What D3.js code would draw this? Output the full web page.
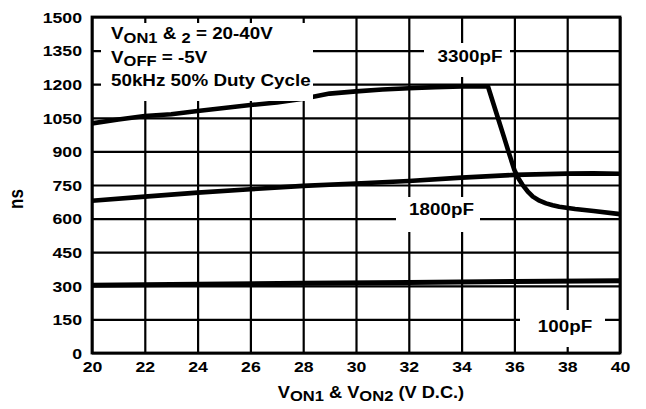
<!doctype html>
<html lang="en">
<head>
<meta charset="utf-8">
<title>Propagation delay vs VON</title>
<style>
    body { margin: 0; background: #fff; }
    svg text {
        font-family: "Liberation Sans", Arial, Helvetica, sans-serif;
        font-weight: bold;
        fill: #000;
    }
    .grid line { stroke: #000; stroke-width: 2.2; }
    .curve { fill: none; stroke: #000; stroke-linejoin: round; stroke-linecap: butt; }
</style>
</head>
<body>
<script src="https://d3js.org/d3.v7.min.js"></script>
<script>
    // tick labels
    const xTicks = [20, 22, 24, 26, 28, 30, 32, 34, 36, 38, 40];
    const yTicks = [0, 150, 300, 450, 600, 750, 900, 1050, 1200, 1350, 1500];

    // 3300pF curve
    const volts3300 = [20, 21, 22, 23, 24, 25, 26, 27, 28, 29, 30, 31, 32, 33, 34, 35,
        35.2, 35.4, 35.6, 35.8, 36, 36.15, 36.3, 36.5, 36.7, 36.95, 37.2, 37.45, 37.7, 38.3, 39, 40];
    const ns3300 = [1025, 1042, 1058, 1066, 1080, 1094, 1107, 1118, 1135, 1158, 1168, 1176, 1182, 1187, 1190, 1190,
        1115, 1040, 966, 890, 817, 780, 752, 722, 698, 680, 668, 660, 653, 643, 634, 620];

    // 1800pF curve
    const volts1800 = [20, 22, 24, 26, 28, 30, 32, 34, 36, 38, 39, 40];
    const ns1800 = [680, 698, 716, 731, 746, 757, 768, 783, 795, 801, 802, 800];

    // 100pF curve
    const volts100 = [20, 24, 28, 32, 36, 40];
    const ns100 = [303, 307, 311, 315, 319, 323];

    const W = 646, H = 409;
    const margin = {top: 17, right: 26, bottom: 56, left: 92};
    const iw = W - margin.left - margin.right;
    const ih = H - margin.top - margin.bottom;
    const SX = 1.14;   // the source lettering is a little wide

    const svg = d3.select('body').append('svg')
        .attr('width', W).attr('height', H);

    const g = svg.append('g').attr('transform', `translate(${margin.left},${margin.top})`);

    const x = d3.scaleLinear().domain([20, 40]).range([0, iw]);
    const y = d3.scaleLinear().domain([0, 1500]).range([ih, 0]);

    // grid + tick labels
    const xAxis = g.append('g').attr('class', 'grid')
        .attr('transform', `translate(0,${ih})`)
        .call(d3.axisBottom(x).tickValues(xTicks).tickFormat(d3.format('d'))
            .tickSizeInner(-ih).tickSizeOuter(0).tickPadding(8));
    xAxis.select('.domain').remove();
    xAxis.selectAll('text')
        .style('font-size', '15.5px')
        .attr('transform', `scale(${SX},1)`);

    const yAxis = g.append('g').attr('class', 'grid')
        .call(d3.axisLeft(y).tickValues(yTicks).tickFormat(d3.format('d'))
            .tickSizeInner(-iw).tickSizeOuter(0).tickPadding(10));
    yAxis.select('.domain').remove();
    yAxis.selectAll('text')
        .style('font-size', '15.5px')
        .attr('x', 0)
        .attr('dy', '0.34em')
        .attr('transform', `translate(-10,0) scale(${SX},1)`);

    // frame
    g.append('rect')
        .attr('width', iw).attr('height', ih)
        .attr('fill', 'none').attr('stroke', '#000').attr('stroke-width', 2.8);

    // white label backgrounds that hide the grid
    const boxes = [
        [101, 23, 313, 101],
        [424, 43, 510, 77],
        [396, 197, 480, 232],
        [520, 310, 605, 347]
    ];
    svg.selectAll('rect.mask').data(boxes).enter().append('rect')
        .attr('class', 'mask')
        .attr('x', d => d[0]).attr('y', d => d[1])
        .attr('width', d => d[2] - d[0]).attr('height', d => d[3] - d[1])
        .attr('fill', '#fff');

    // curves
    const line = d3.line().x(d => x(d[0])).y(d => y(d[1]));
    const curves = [
        {v: volts3300, n: ns3300, w: 4.6},
        {v: volts1800, n: ns1800, w: 4.6},
        {v: volts100, n: ns100, w: 5}
    ];
    g.selectAll('path.curve').data(curves).enter().append('path')
        .attr('class', 'curve')
        .attr('stroke-width', d => d.w)
        .attr('d', d => line(d.v.map((v, i) => [v, d.n[i]])));

    // text helper: parts are [string, isSubscript]
    function label(px, py, parts, anchor, size, rot) {
        const t = svg.append('text')
            .attr('text-anchor', anchor || 'start')
            .style('font-size', (size || 16.5) + 'px')
            .attr('transform', rot
                ? `translate(${px},${py}) rotate(-90) scale(1,${SX})`
                : `translate(${px},${py}) scale(${SX},1)`);
        let down = false;
        parts.forEach(p => {
            const sub = p[1];
            const s = t.append('tspan').text(p[0]);
            if (sub) s.style('font-size', '14.5px');
            if (sub !== down) s.attr('dy', sub ? 3.5 : -3.5);
            down = sub;
        });
        return t;
    }

    label(111, 42.5, [['V', 0], ['ON1', 1], [' & ', 0], ['2', 1], [' = 20-40V', 0]]);
    label(111, 66, [['V', 0], ['OFF', 1], [' = -5V', 0]]);
    label(111, 89.5, [['50kHz 50% Duty Cycle', 0]]);

    label(470, 65.5, [['3300pF', 0]], 'middle');
    label(441.5, 218, [['1800pF', 0]], 'middle');
    label(565, 335, [['100pF', 0]], 'middle');

    label(371, 401, [['V', 0], ['ON1', 1], [' & V', 0], ['ON2', 1], [' (V D.C.)', 0]], 'middle', 16);
    label(26.5, 199, [['ns', 0]], 'middle', 17, true);
</script>
</body>
</html>
